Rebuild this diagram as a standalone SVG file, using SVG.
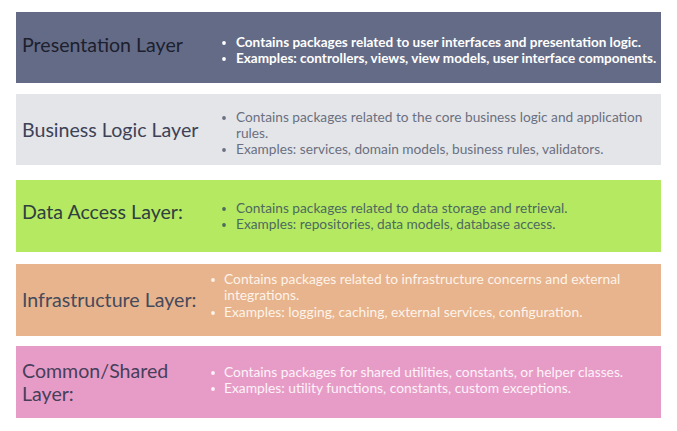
<svg xmlns="http://www.w3.org/2000/svg" width="677" height="431" viewBox="0 0 677 431">
<style>
.t{font-family:Lato,"Liberation Sans",sans-serif;font-size:19.6px}
.b{font-family:Lato,"Liberation Sans",sans-serif;font-size:13.7px}
.w{font-weight:bold;font-size:13.55px}
.l{font-size:13.8px}
</style>
<rect width="677" height="431" fill="#ffffff"/>
<g id="presentation">
<rect x="16" y="12" width="645" height="71" fill="#646b86"/>
<text class="t" x="22" y="52" fill="#1c1f2e">Presentation Layer</text>
<g class="b w" fill="#ffffff">
<circle cx="224" cy="43" r="1.9"/><text x="236" y="47">Contains packages related to user interfaces and presentation logic.</text>
<circle cx="224" cy="59" r="1.9"/><text x="236" y="63">Examples: controllers, views, view models, user interface components.</text>
</g>
</g>
<g id="business">
<rect x="16" y="94" width="645" height="71" fill="#e4e5e9"/>
<text class="t" x="22" y="137" fill="#3d4256">Business Logic Layer</text>
<g class="b" fill="#6b7080">
<circle cx="224" cy="118" r="1.9"/><text x="236" y="122">Contains packages related to the core business logic and application</text>
<text x="236" y="138">rules.</text>
<circle cx="224" cy="150" r="1.9"/><text x="236" y="154">Examples: services, domain models, business rules, validators.</text>
</g>
</g>
<g id="dataaccess">
<rect x="16" y="180" width="645" height="72" fill="#b5e962"/>
<text class="t" x="22" y="219" fill="#2f4040">Data Access Layer:</text>
<g class="b" fill="#4d6a5e">
<circle cx="224" cy="209" r="1.9"/><text x="236" y="213">Contains packages related to data storage and retrieval.</text>
<circle cx="224" cy="225" r="1.9"/><text x="236" y="229">Examples: repositories, data models, database access.</text>
</g>
</g>
<g id="infrastructure">
<rect x="16" y="264" width="645" height="72" fill="#e8b48d"/>
<text class="t" x="22" y="307" fill="#454a5c">Infrastructure Layer:</text>
<g class="b l" fill="#fdf3ea">
<circle cx="213" cy="280" r="1.9"/><text x="224" y="284">Contains packages related to infrastructure concerns and external</text>
<text x="224" y="300">integrations.</text>
<circle cx="213" cy="313" r="1.9"/><text x="224" y="317">Examples: logging, caching, external services, configuration.</text>
</g>
</g>
<g id="common">
<rect x="16" y="346" width="645" height="72" fill="#e79cc8"/>
<text class="t" x="22" y="378" fill="#473f5a">Common/Shared</text>
<text class="t" x="22" y="401" fill="#473f5a">Layer:</text>
<g class="b l" fill="#fdf3f8">
<circle cx="213" cy="373" r="1.9"/><text x="224" y="377">Contains packages for shared utilities, constants, or helper classes.</text>
<circle cx="213" cy="389" r="1.9"/><text x="224" y="393">Examples: utility functions, constants, custom exceptions.</text>
</g>
</g>
<g id="connectors"/>
</svg>
